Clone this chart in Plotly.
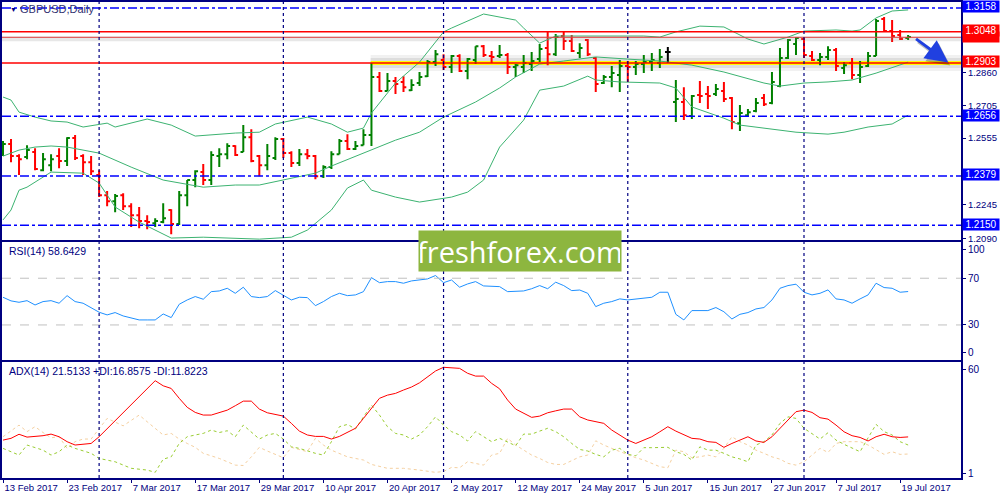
import plotly.graph_objects as go

# GBPUSD daily bars, 13 Feb 2017 .. 20 Jul 2017 (x = bar number)
opens = [1.2508, 1.2527, 1.2471, 1.2467, 1.2490, 1.2406, 1.2429, 1.2471, 1.2448, 1.2555,
         1.2471, 1.2443, 1.2383, 1.2290, 1.2262, 1.2290, 1.2239, 1.2197, 1.2170, 1.2160,
         1.2165, 1.2221, 1.2156, 1.2290, 1.2360, 1.2397, 1.2360, 1.2471, 1.2480, 1.2518,
         1.2490, 1.2559, 1.2471, 1.2429, 1.2462, 1.2550, 1.2485, 1.2439, 1.2480, 1.2471,
         1.2378, 1.2420, 1.2480, 1.2541, 1.2504, 1.2522, 1.2569, 1.2838, 1.2773, 1.2819,
         1.2815, 1.2777, 1.2810, 1.2842, 1.2907, 1.2917, 1.2884, 1.2935, 1.2866, 1.2917,
         1.2981, 1.2935, 1.2935, 1.2940, 1.2884, 1.2884, 1.2898, 1.2921, 1.2972, 1.2944,
         1.3028, 1.3005, 1.2949, 1.3009, 1.2926, 1.2810, 1.2838, 1.2847, 1.2889, 1.2884,
         1.2898, 1.2907, 1.2903, 1.2954, 1.2722, 1.2722, 1.2657, 1.2754, 1.2759, 1.2759,
         1.2773, 1.2740, 1.2624, 1.2661, 1.2680, 1.2740, 1.2717, 1.2796, 1.2926, 1.2991,
         1.3014, 1.2935, 1.2917, 1.2931, 1.2963, 1.2880, 1.2903, 1.2847, 1.2889, 1.2935,
         1.3107, 1.3051, 1.3033, 1.3019]
highs = [1.2541, 1.2550, 1.2480, 1.2522, 1.2508, 1.2485, 1.2480, 1.2508, 1.2559, 1.2569,
         1.2480, 1.2471, 1.2406, 1.2309, 1.2295, 1.2299, 1.2253, 1.2235, 1.2197, 1.2183,
         1.2253, 1.2225, 1.2309, 1.2360, 1.2406, 1.2434, 1.2494, 1.2508, 1.2531, 1.2522,
         1.2615, 1.2596, 1.2476, 1.2527, 1.2559, 1.2555, 1.2494, 1.2504, 1.2504, 1.2476,
         1.2429, 1.2494, 1.2550, 1.2573, 1.2541, 1.2596, 1.2903, 1.2861, 1.2856, 1.2838,
         1.2842, 1.2828, 1.2861, 1.2917, 1.2963, 1.2944, 1.2940, 1.2944, 1.2926, 1.2981,
         1.2986, 1.2958, 1.2986, 1.2949, 1.2898, 1.2940, 1.2954, 1.2991, 1.3047, 1.3037,
         1.3047, 1.3033, 1.2995, 1.3014, 1.2931, 1.2847, 1.2889, 1.2917, 1.2912, 1.2912,
         1.2940, 1.2949, 1.2968, 1.2977, 1.2824, 1.2791, 1.2754, 1.2819, 1.2796, 1.2805,
         1.2815, 1.2745, 1.2708, 1.2689, 1.2740, 1.2759, 1.2861, 1.2972, 1.3014, 1.3023,
         1.3019, 1.2958, 1.2949, 1.2981, 1.2972, 1.2907, 1.2926, 1.2912, 1.2954, 1.3107,
         1.3116, 1.3102, 1.3056, 1.3033]
lows = [1.2471, 1.2443, 1.2383, 1.2457, 1.2406, 1.2401, 1.2401, 1.2415, 1.2425, 1.2453,
        1.2383, 1.2383, 1.2281, 1.2239, 1.2211, 1.2221, 1.2142, 1.2137, 1.2132, 1.2142,
        1.2160, 1.2109, 1.2151, 1.2239, 1.2327, 1.2337, 1.2337, 1.2420, 1.2457, 1.2471,
        1.2490, 1.2443, 1.2378, 1.2406, 1.2453, 1.2462, 1.2420, 1.2425, 1.2457, 1.2364,
        1.2369, 1.2411, 1.2480, 1.2499, 1.2499, 1.2522, 1.2518, 1.2768, 1.2773, 1.2759,
        1.2768, 1.2773, 1.2796, 1.2838, 1.2889, 1.2870, 1.2856, 1.2861, 1.2828, 1.2898,
        1.2931, 1.2903, 1.2926, 1.2852, 1.2838, 1.2856, 1.2866, 1.2907, 1.2893, 1.2935,
        1.2963, 1.2954, 1.2926, 1.2935, 1.2768, 1.2805, 1.2791, 1.2768, 1.2815, 1.2847,
        1.2856, 1.2866, 1.2880, 1.2903, 1.2629, 1.2638, 1.2643, 1.2717, 1.2689, 1.2750,
        1.2722, 1.2596, 1.2587, 1.2652, 1.2675, 1.2703, 1.2712, 1.2791, 1.2921, 1.2940,
        1.2926, 1.2912, 1.2893, 1.2917, 1.2866, 1.2852, 1.2828, 1.2810, 1.2884, 1.2935,
        1.3051, 1.3000, 1.3009, 1.3009]
closes = [1.2527, 1.2471, 1.2457, 1.2499, 1.2411, 1.2457, 1.2457, 1.2448, 1.2555, 1.2462,
          1.2443, 1.2401, 1.2290, 1.2262, 1.2286, 1.2239, 1.2197, 1.2170, 1.2165, 1.2170,
          1.2183, 1.2156, 1.2290, 1.2360, 1.2401, 1.2360, 1.2476, 1.2480, 1.2518, 1.2476,
          1.2559, 1.2448, 1.2429, 1.2471, 1.2550, 1.2485, 1.2439, 1.2480, 1.2471, 1.2378,
          1.2420, 1.2480, 1.2541, 1.2504, 1.2518, 1.2569, 1.2838, 1.2773, 1.2819, 1.2805,
          1.2791, 1.2801, 1.2838, 1.2907, 1.2944, 1.2884, 1.2935, 1.2866, 1.2921, 1.2981,
          1.2940, 1.2931, 1.2940, 1.2884, 1.2893, 1.2903, 1.2912, 1.2968, 1.2944, 1.3023,
          1.3005, 1.2958, 1.2972, 1.2944, 1.2805, 1.2838, 1.2856, 1.2889, 1.2884, 1.2898,
          1.2907, 1.2917, 1.2931, 1.2954, 1.2736, 1.2661, 1.2750, 1.2750, 1.2750, 1.2782,
          1.2736, 1.2629, 1.2671, 1.2675, 1.2717, 1.2712, 1.2815, 1.2926, 1.3009, 1.3019,
          1.2940, 1.2917, 1.2931, 1.2963, 1.2889, 1.2893, 1.2847, 1.2884, 1.2935, 1.3098,
          1.3051, 1.3028, 1.3014, 1.3023]

# Bollinger bands at sample bars
bb_upper_idx = [0, 1, 2, 4, 6, 8, 10, 12, 13, 14, 18, 21, 24, 29, 32, 34, 38, 41, 43, 45,
                46, 49, 52, 55, 56, 60, 64, 65, 67, 69, 72, 75, 80, 82, 84, 87, 90, 93, 95, 98,
                100, 104, 106, 107, 109, 111, 113]
bb_upper = [1.2745, 1.2731, 1.2675, 1.2652, 1.2634, 1.2629, 1.2606, 1.2620, 1.2624, 1.2606,
            1.2643, 1.2615, 1.2564, 1.2578, 1.2582, 1.2620, 1.2652, 1.2620, 1.2582, 1.2601,
            1.2671, 1.2810, 1.2907, 1.3047, 1.3065, 1.3130, 1.3102, 1.3065, 1.2995, 1.3028,
            1.3028, 1.3028, 1.3028, 1.3023, 1.3047, 1.3074, 1.3070, 1.3014, 1.2991, 1.3023,
            1.3051, 1.3056, 1.3051, 1.3056, 1.3112, 1.3144, 1.3149]
bb_mid_idx = [0, 2, 4, 6, 8, 12, 16, 20, 25, 29, 32, 35, 39, 41, 45, 49, 52, 55, 59, 62,
              64, 67, 70, 74, 78, 82, 86, 90, 95, 97, 100, 103, 106, 109, 113]
bb_mid = [1.2471, 1.2499, 1.2513, 1.2518, 1.2513, 1.2485, 1.2420, 1.2360, 1.2327, 1.2337,
          1.2337, 1.2360, 1.2392, 1.2425, 1.2485, 1.2545, 1.2582, 1.2652, 1.2722, 1.2787,
          1.2838, 1.2898, 1.2912, 1.2931, 1.2921, 1.2912, 1.2893, 1.2861, 1.2810, 1.2796,
          1.2810, 1.2815, 1.2824, 1.2856, 1.2907]
bb_lower_idx = [0, 1, 2, 3, 6, 10, 12, 14, 17, 21, 25, 32, 36, 38, 41, 43, 45, 46, 49, 52,
                56, 58, 60, 62, 65, 67, 70, 73, 74, 77, 82, 84, 86, 90, 92, 99, 103, 105, 108, 111,
                113]
bb_lower = [1.2175, 1.2221, 1.2313, 1.2327, 1.2397, 1.2392, 1.2346, 1.2235, 1.2165, 1.2091,
            1.2095, 1.2086, 1.2095, 1.2128, 1.2221, 1.2323, 1.2360, 1.2313, 1.2281, 1.2258,
            1.2281, 1.2304, 1.2360, 1.2513, 1.2638, 1.2777, 1.2796, 1.2842, 1.2824, 1.2815,
            1.2810, 1.2787, 1.2699, 1.2647, 1.2615, 1.2582, 1.2573, 1.2582, 1.2606, 1.2620,
            1.2661]

# RSI(14), one value per bar
rsi = [53.7, 50.6, 49.4, 50.8, 47.1, 50.0, 50.8, 48.6, 55.1, 50.0,
       48.6, 44.9, 40.9, 38.6, 40.6, 37.7, 35.7, 34.3, 34.3, 34.3,
       39.4, 36.3, 47.7, 51.4, 54.3, 52.0, 58.5, 59.1, 61.4, 57.1,
       62.3, 54.3, 53.4, 54.3, 59.4, 55.1, 51.4, 53.7, 53.4, 46.5,
       50.0, 54.3, 57.1, 55.1, 55.7, 58.5, 70.5, 66.2, 67.1, 67.1,
       65.7, 67.7, 68.5, 69.4, 72.3, 66.2, 68.5, 62.3, 65.1, 67.1,
       63.4, 63.4, 62.8, 58.5, 58.7, 59.1, 61.0, 63.7, 61.0, 66.6,
       63.7, 59.4, 59.9, 57.1, 45.7, 48.6, 50.0, 52.3, 51.4, 52.0,
       52.9, 53.7, 58.0, 58.0, 39.1, 34.3, 42.3, 42.3, 42.3, 44.9,
       41.3, 35.1, 39.1, 40.6, 43.7, 44.9, 51.4, 61.4, 63.7, 64.9,
       58.0, 55.7, 57.1, 60.0, 52.3, 51.4, 48.6, 52.3, 55.7, 65.7,
       62.0, 61.4, 58.0, 58.6]

# ADX(14) with +DI / -DI
adx_idx = [0, 1, 2, 3, 5, 6, 7, 8, 9, 11, 12] + list(range(19, 114))
adx = [19.7, 20.7, 23.0, 21.4, 22.2, 23.1, 21.6, 18.8, 16.9, 17.8, 21.6,
       53.4, 50.5, 49.0, 43.4, 38.3, 35.4, 33.9, 33.9, 35.4, 36.7,
       39.2, 41.8, 41.8, 37.3, 35.2, 34.3, 33.3, 29.2, 24.8, 22.6,
       21.8, 21.8, 20.3, 21.8, 23.9, 26.4, 32.0, 38.0, 43.4, 45.2,
       46.2, 48.1, 49.8, 52.2, 55.6, 58.9, 61.0, 60.6, 60.4, 57.6,
       56.0, 56.0, 51.9, 48.8, 42.4, 37.3, 34.9, 32.6, 33.3, 35.2,
       36.3, 37.3, 37.3, 32.9, 31.1, 30.1, 29.2, 25.4, 22.6, 19.7,
       17.8, 19.7, 21.6, 24.4, 27.3, 24.8, 22.6, 20.7, 20.3, 18.8,
       18.4, 15.6, 17.8, 19.7, 21.6, 19.2, 18.4, 21.6, 26.4, 31.1,
       35.8, 36.7, 35.4, 32.4, 31.6, 28.2, 24.4, 22.2, 21.2, 19.2,
       21.6, 23.0, 21.6, 21.2, 21.5]
pdi_idx = [0, 1, 2, 3, 5, 6, 7, 8, 9, 11, 12, 14, 16, 18] + list(range(19, 114))
pdi = [15.0, 13.1, 11.2, 16.9, 14.0, 11.2, 13.1, 16.9, 15.0, 12.2, 9.3, 7.4, 3.7, 2.7,
       1.4, 8.9, 10.2, 17.8, 21.6, 22.6, 23.5, 25.4, 24.0, 25.0,
       21.6, 28.2, 24.5, 20.3, 22.6, 23.5, 20.3, 15.9, 15.0, 13.5,
       12.2, 11.2, 18.8, 27.3, 28.6, 26.0, 32.9, 39.6, 33.9, 27.3,
       23.5, 22.6, 20.3, 22.6, 27.3, 32.9, 28.2, 24.5, 22.6, 19.2,
       24.5, 21.6, 18.8, 20.7, 18.8, 16.5, 23.1, 23.1, 24.8, 26.4,
       24.5, 21.6, 17.8, 14.4, 13.5, 11.6, 10.2, 14.0, 15.0, 11.6,
       10.8, 15.4, 15.4, 15.6, 15.6, 13.1, 11.6, 8.4, 15.9, 14.0,
       14.0, 12.2, 10.2, 9.0, 7.4, 16.9, 18.8, 22.6, 29.2, 32.9,
       32.0, 26.4, 23.5, 20.3, 23.9, 19.7, 17.3, 15.0, 13.1, 21.0,
       28.6, 24.5, 22.6, 18.8, 16.9]
ndi_idx = [0, 2, 3, 4, 5, 6, 7, 8, 9, 10, 11, 12, 13, 15, 17, 18, 19, 20, 21, 22,
           23, 24, 25, 27, 29, 30, 31, 32, 33, 35, 36, 37, 38, 39, 40, 41, 43, 45, 46, 48,
           50, 52, 54, 55, 56, 57, 58, 60, 61, 62, 63, 64, 65, 66, 67, 68, 69, 70, 72, 73,
           74, 75, 76, 77, 78, 79, 80, 81, 82, 83, 84, 85, 86, 87, 88, 89, 90, 91, 92, 93,
           94, 95, 96, 97, 98, 99, 100, 101, 102, 103, 104, 105, 107, 108, 109, 110, 111, 112, 113]
ndi = [21.6, 28.2, 24.5, 27.3, 24.0, 21.0, 21.6, 15.0, 18.8, 20.3, 20.3, 26.4, 32.0, 27.8, 33.9, 30.1, 26.4, 22.6, 23.5, 20.3,
       17.8, 15.6, 12.2, 9.3, 5.5, 5.3, 10.2, 15.6, 13.5, 9.7, 15.6, 14.4, 13.1, 20.7, 16.9, 14.0, 10.2, 8.4, 5.9, 3.7,
       3.7, 2.7, 1.4, 1.9, 4.2, 4.0, 7.4, 5.5, 11.2, 12.2, 20.7, 16.9, 14.0, 11.2, 9.3, 7.0, 5.9, 5.9, 10.2, 11.2,
       19.3, 16.9, 15.0, 13.1, 11.2, 9.7, 8.4, 6.5, 4.6, 4.0, 14.0, 13.1, 9.7, 10.2, 11.2, 10.2, 15.0, 21.6, 18.8, 16.9,
       14.0, 12.2, 10.2, 8.9, 6.5, 5.5, 7.4, 11.2, 15.0, 12.7, 17.8, 18.8, 18.8, 16.9, 14.0, 11.6, 13.1, 11.6, 11.8]

# date axis: a label every 8 bars, dashed separator at the first bar of each month
date_ticks = list(range(0, 113, 8))
date_labels = ["13 Feb 2017", "23 Feb 2017", "7 Mar 2017", "17 Mar 2017", "29 Mar 2017",
               "10 Apr 2017", "20 Apr 2017", "2 May 2017", "12 May 2017", "24 May 2017",
               "5 Jun 2017", "15 Jun 2017", "27 Jun 2017", "7 Jul 2017", "19 Jul 2017"]
month_starts = [12, 35, 55, 78, 100]

# drawn levels
red_levels = [1.3048, 1.2903]
blue_levels = [1.3158, 1.2656, 1.2379, 1.2150]
bid_level = 1.3022
support_start = 46
price_ticks = [1.2860, 1.2705, 1.2555, 1.2245, 1.2090]

NAVY = "#000080"
x_range = [-0.125, 119.6]

fig = go.Figure()

bars = range(len(opens))
normal = [i for i in bars if opens[i] != closes[i]]
doji = [i for i in bars if opens[i] == closes[i]]
fig.add_trace(go.Ohlc(
    x=normal, open=[opens[i] for i in normal], high=[highs[i] for i in normal],
    low=[lows[i] for i in normal], close=[closes[i] for i in normal],
    increasing=dict(line=dict(color="#008000", width=2)),
    decreasing=dict(line=dict(color="#FF0000", width=2)),
    tickwidth=0.35, hoverinfo="skip", xaxis="x", yaxis="y"))
fig.add_trace(go.Ohlc(
    x=doji, open=[opens[i] for i in doji], high=[highs[i] for i in doji],
    low=[lows[i] for i in doji], close=[closes[i] for i in doji],
    increasing=dict(line=dict(color="black", width=2)),
    decreasing=dict(line=dict(color="black", width=2)),
    tickwidth=0.35, hoverinfo="skip", xaxis="x", yaxis="y"))

for idx, vals in [(bb_upper_idx, bb_upper), (bb_mid_idx, bb_mid), (bb_lower_idx, bb_lower)]:
    fig.add_trace(go.Scatter(x=idx, y=vals, mode="lines", line=dict(color="#3CB371", width=1),
                             hoverinfo="skip", xaxis="x", yaxis="y"))

fig.add_trace(go.Scatter(x=list(bars), y=rsi, mode="lines", line=dict(color="#1E90FF", width=1),
                         hoverinfo="skip", xaxis="x2", yaxis="y2"))

fig.add_trace(go.Scatter(x=ndi_idx, y=ndi, mode="lines", line=dict(color="#F5D0A0", width=1, dash="dot"),
                         hoverinfo="skip", xaxis="x3", yaxis="y3"))
fig.add_trace(go.Scatter(x=pdi_idx, y=pdi, mode="lines", line=dict(color="#9ACD32", width=1, dash="dot"),
                         hoverinfo="skip", xaxis="x3", yaxis="y3"))
fig.add_trace(go.Scatter(x=adx_idx, y=adx, mode="lines", line=dict(color="#FF0000", width=1),
                         hoverinfo="skip", xaxis="x3", yaxis="y3"))

shapes = []
# yellow support band with its soft shadow
for w, c in [(16, "rgba(120,120,120,0.10)"), (10, "rgba(110,110,110,0.15)"), (4, "#FFFF00")]:
    shapes.append(dict(type="line", xref="x", yref="y", x0=support_start - 0.1, x1=x_range[1],
                       y0=red_levels[1], y1=red_levels[1], line=dict(color=c, width=w), layer="below"))
shapes.append(dict(type="line", xref="x domain", yref="y", x0=0, x1=1, y0=bid_level - 0.0007,
                   y1=bid_level - 0.0007, line=dict(color="rgba(120,120,120,0.18)", width=5)))
shapes.append(dict(type="line", xref="x domain", yref="y", x0=0, x1=1, y0=bid_level, y1=bid_level,
                   line=dict(color="#E04040", width=1)))
for lv in red_levels:
    shapes.append(dict(type="line", xref="x domain", yref="y", x0=0, x1=1, y0=lv, y1=lv,
                       line=dict(color="#FF0000", width=1.5)))
for lv in blue_levels:
    shapes.append(dict(type="line", xref="x domain", yref="y", x0=0, x1=1, y0=lv, y1=lv,
                       line=dict(color="#0000FF", width=1.5, dash="dashdot")))
for lv in [70, 30]:
    shapes.append(dict(type="line", xref="x2 domain", yref="y2", x0=0, x1=1, y0=lv, y1=lv,
                       line=dict(color="#C0C0C0", width=1, dash="dash")))
for m in month_starts:
    shapes.append(dict(type="line", xref="x", yref="paper", x0=m, x1=m, y0=0, y1=1,
                       line=dict(color=NAVY, width=1.2, dash="3px,3px")))

annotations = []
# bid label mostly hidden under the 1.3048 box: only its red strip shows
annotations.append(dict(xref="paper", x=1, xanchor="left", xshift=1, yref="y", y=bid_level,
                        yanchor="middle", text=" ", showarrow=False, bgcolor="#FF0000",
                        font=dict(color="white", size=9), width=36, height=10, borderpad=0))
# boxed price labels on the right scale
boxed = [(lv, "#FF0000") for lv in red_levels] + [(lv, "#0000FF") for lv in blue_levels]
for lv, col in boxed:
    annotations.append(dict(xref="paper", x=1, xanchor="left", xshift=1, yref="y", y=lv,
                            yanchor="middle", yshift=1, text=f"{lv:.4f}", showarrow=False,
                            bgcolor=col, font=dict(color="white", size=10, family="Liberation Sans"),
                            width=36, height=11, borderpad=0))

# forecast arrow (shadow + arrow)
for col, xs, ys in [("rgba(0,0,0,0.25)", 2, -3), ("#2040E0", 0, 0)]:
    annotations.append(dict(x=118, y=1.2905, xref="x", yref="y", ax=113.8, ay=1.3020,
                            axref="x", ayref="y", showarrow=True, arrowhead=2, arrowsize=1.5,
                            arrowwidth=3, arrowcolor=col, text="", xshift=xs, yshift=ys))

annotations += [
    dict(xref="paper", yref="paper", x=0.006, y=0.985, text="▼", showarrow=False,
         font=dict(size=7, color=NAVY), xanchor="left", yanchor="middle"),
    dict(xref="paper", yref="paper", x=0.017, y=0.985, text="GBPUSD,Daily", showarrow=False,
         font=dict(size=11, color="#303070"), xanchor="left", yanchor="middle"),
    dict(xref="paper", yref="paper", x=0.005, y=0.477, text="RSI(14) 58.6429", showarrow=False,
         font=dict(size=10.5, color=NAVY), xanchor="left", yanchor="middle"),
    dict(xref="paper", yref="paper", x=0.005, y=0.225,
         text="ADX(14) 21.5133 +DI:16.8575 -DI:11.8223", showarrow=False,
         font=dict(size=10.5, color=NAVY), xanchor="left", yanchor="middle"),
    dict(xref="paper", yref="paper", x=0.5397, y=0.4769, text="freshforex.com", showarrow=False,
         font=dict(size=29, color="white", family="Open Sans"), bgcolor="#8DB63F",
         width=200, height=38, xanchor="center", yanchor="middle"),
]

axis_common = dict(showgrid=False, zeroline=False, showline=True, mirror=True,
                   linecolor=NAVY, linewidth=2, automargin=False)

fig.update_layout(
    width=1000, height=500,
    margin=dict(l=2, r=39, t=2, b=22),
    paper_bgcolor="white", plot_bgcolor="white",
    showlegend=False,
    font=dict(family="Liberation Sans", size=10, color=NAVY),
    xaxis=dict(axis_common, range=x_range, anchor="y", showticklabels=False,
               rangeslider=dict(visible=False)),
    xaxis2=dict(axis_common, matches="x", anchor="y2", showticklabels=False),
    xaxis3=dict(axis_common, matches="x", anchor="y3", tickvals=date_ticks, ticktext=date_labels,
                ticks="outside", ticklen=3, tickcolor=NAVY, ticklabelposition="outside right",
                tickangle=0, tickfont=dict(size=9.5, color=NAVY), rangeslider=dict(visible=False)),
    yaxis=dict(axis_common, domain=[0.5, 1.0], range=[1.2082, 1.31858], side="right",
               tickvals=price_ticks, ticktext=[f"{p:.4f}" for p in price_ticks],
               ticks="outside", ticklen=3, tickcolor=NAVY, tickfont=dict(size=9.5, color=NAVY)),
    yaxis2=dict(axis_common, domain=[0.2479, 0.4958], range=[0, 101], side="right",
                tickvals=[95, 70, 30, 6], ticktext=["100", "70", "30", "0"],
                ticks="outside", ticklen=3, tickcolor=NAVY, tickfont=dict(size=10, color=NAVY)),
    yaxis3=dict(axis_common, domain=[0, 0.2437], range=[-1.8, 64], side="right",
                tickvals=[60, 1], ticktext=["60", "1"],
                ticks="outside", ticklen=3, tickcolor=NAVY, tickfont=dict(size=10, color=NAVY)),
    shapes=shapes,
    annotations=annotations,
)

fig.write_html("out.html", config={"displayModeBar": False},
               post_script="document.body.style.margin='0';")
